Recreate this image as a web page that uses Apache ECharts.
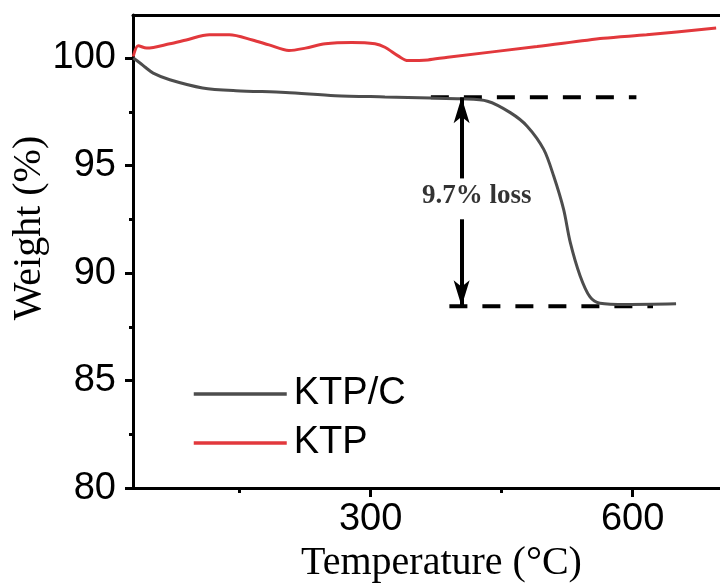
<!DOCTYPE html>
<html>
<head>
<meta charset="utf-8">
<script src="https://cdn.jsdelivr.net/npm/echarts@6/dist/echarts.min.js"></script>
<style>html,body{margin:0;padding:0;background:#fff;}#c{width:720px;height:588px;}</style>
</head>
<body>
<div id="c"></div>
<script>
// Temperature (°C) and weight (%) for KTP/C
var ktpcT = [28.3, 36, 41.6, 51.1, 70.1, 107.6, 145.9, 202.7, 259.5, 316.4, 369.0, 403.4, 433.8, 459.9, 479.2, 498.2, 509.6, 520.9, 528.5, 539.8, 551.2, 562.6, 592.9, 649.7];
var ktpcW = [100.0, 99.77, 99.58, 99.30, 98.99, 98.61, 98.48, 98.40, 98.25, 98.19, 98.14, 98.10, 97.99, 97.46, 96.83, 95.75, 94.51, 92.97, 91.44, 89.88, 88.89, 88.60, 88.54, 88.57];
// Temperature (°C) and weight (%) for KTP
var ktpT = [28.3, 34.0, 43.6, 70.1, 89.0, 115.5, 138.3, 164.7, 183.7, 206.5, 225.4, 248.2, 278.4, 305.0, 316.4, 331.5, 342.8, 365.6, 388.3, 490.6, 566.4, 615.9, 695.6];
var ktpW = [100.07, 100.57, 100.46, 100.66, 100.84, 101.08, 101.08, 100.84, 100.61, 100.35, 100.46, 100.66, 100.72, 100.66, 100.50, 100.10, 99.88, 99.91, 100.04, 100.53, 100.92, 101.08, 101.39];
// annotation: dashed guide lines and loss arrow
var upperGuideT = [369.0, 604.3];
var upperGuideW = 98.17;
var lowerGuideT = [390.2, 623.3];
var lowerGuideW = 88.46;
var arrowT = 404.2;
var arrowGapTopW = 94.40;
var arrowGapBottomW = 92.50;
var lossLabelPos = [421.5, 93.57];
var lossLabel = '9.7% loss';
// axis ticks
var xMajor = [300, 600];
var xMinor = [150, 450];
var yMajor = [80, 85, 90, 95, 100];
var yMinor = [82.5, 87.5, 92.5, 97.5];
var seriesNames = ['KTP/C', 'KTP'];

function zip(a, b) { return a.map(function (v, i) { return [v, b[i]]; }); }

var sans = 'Liberation Sans, Arial, sans-serif';
var serif = 'Liberation Serif, Times New Roman, serif';
var xMin = 28, xMax = 700, yMin = 80, yMax = 102;

var chart = echarts.init(document.getElementById('c'));
chart.setOption({
  animation: false,
  backgroundColor: '#fff',
  grid: { left: 133, right: -4, top: 15, bottom: 98 },
  legend: {
    data: seriesNames,
    orient: 'vertical',
    left: 187, top: 367,
    itemWidth: 93, itemHeight: 14, itemGap: 5,
    lineStyle: { width: 3.5 },
    itemStyle: { opacity: 0 },
    textStyle: { fontFamily: sans, fontSize: 38, color: '#000', lineHeight: 44, padding: [0, 0, 0, 2] }
  },
  xAxis: [
    {
      type: 'value', min: xMin, max: xMax, position: 'bottom',
      axisLine: { show: true, lineStyle: { color: '#000', width: 3 } },
      axisTick: { show: true, customValues: xMajor, length: 9, lineStyle: { color: '#000', width: 3 } },
      axisLabel: { customValues: xMajor, fontFamily: sans, fontSize: 38, color: '#000', margin: 12 },
      splitLine: { show: false },
      name: 'Temperature (°C)', nameLocation: 'middle', nameGap: 53,
      nameTextStyle: { fontFamily: serif, fontSize: 40, color: '#000', padding: [0, 0, 0, 30] }
    },
    {
      type: 'value', min: xMin, max: xMax, position: 'bottom',
      axisLine: { show: false },
      axisTick: { show: true, customValues: xMinor, length: 5, lineStyle: { color: '#000', width: 3 } },
      axisLabel: { show: false }, splitLine: { show: false }
    },
    {
      type: 'value', min: xMin, max: xMax, position: 'top',
      axisLine: { show: true, lineStyle: { color: '#000', width: 3 } },
      axisTick: { show: false }, axisLabel: { show: false }, splitLine: { show: false }
    }
  ],
  yAxis: [
    {
      type: 'value', min: yMin, max: yMax, position: 'left',
      axisLine: { show: true, lineStyle: { color: '#000', width: 3 } },
      axisTick: { show: true, customValues: yMajor, length: 8, lineStyle: { color: '#000', width: 3 } },
      axisLabel: { customValues: yMajor, fontFamily: sans, fontSize: 38, color: '#000', margin: 17 },
      splitLine: { show: false }
    },
    {
      type: 'value', min: yMin, max: yMax, position: 'left',
      axisLine: { show: false },
      axisTick: { show: true, customValues: yMinor, length: 4, lineStyle: { color: '#000', width: 3 } },
      axisLabel: { show: false }, splitLine: { show: false }
    }
  ],
  graphic: [
    {
      type: 'text', x: 29, y: 228, rotation: Math.PI / 2,
      style: { text: 'Weight (%)', font: '40px ' + serif, fill: '#000', textAlign: 'center', textVerticalAlign: 'middle' }
    }
  ],
  series: [
    {
      name: 'upper guide', type: 'line', xAxisIndex: 0, yAxisIndex: 0,
      data: upperGuideT.map(function (t) { return [t, upperGuideW]; }),
      symbol: 'none', silent: true, z: 3,
      lineStyle: { color: '#000', width: 4, type: [18, 15] }
    },
    {
      name: 'lower guide', type: 'line', xAxisIndex: 0, yAxisIndex: 0,
      data: lowerGuideT.map(function (t) { return [t, lowerGuideW]; }),
      symbol: 'none', silent: true, z: 3,
      lineStyle: { color: '#000', width: 4, type: [18, 15] },
      markLine: {
        silent: true, symbol: ['none', 'arrow'], symbolSize: [12, 26],
        label: { show: false },
        lineStyle: { color: '#000', width: 4, type: 'solid' },
        data: [
          [{ coord: [arrowT, arrowGapTopW] }, { coord: [arrowT, upperGuideW] }],
          [{ coord: [arrowT, arrowGapBottomW] }, { coord: [arrowT, lowerGuideW] }]
        ]
      }
    },
    {
      name: 'loss label', type: 'scatter', xAxisIndex: 0, yAxisIndex: 0,
      data: [lossLabelPos], symbolSize: 1, silent: true,
      itemStyle: { color: 'transparent' },
      label: { show: true, position: 'inside', formatter: lossLabel, fontFamily: serif, fontWeight: 'bold', fontSize: 27, color: '#000' }
    },
    {
      name: seriesNames[0], type: 'line', xAxisIndex: 0, yAxisIndex: 0,
      data: zip(ktpcT, ktpcW), symbol: 'none', smooth: 0.3, z: 4,
      color: '#4d4d4d', lineStyle: { color: '#4d4d4d', width: 3 }
    },
    {
      name: seriesNames[1], type: 'line', xAxisIndex: 0, yAxisIndex: 0,
      data: zip(ktpT, ktpW), symbol: 'none', smooth: 0.3, z: 4,
      color: '#e2383c', lineStyle: { color: '#e2383c', width: 3 }
    }
  ]
});
</script>
</body>
</html>
